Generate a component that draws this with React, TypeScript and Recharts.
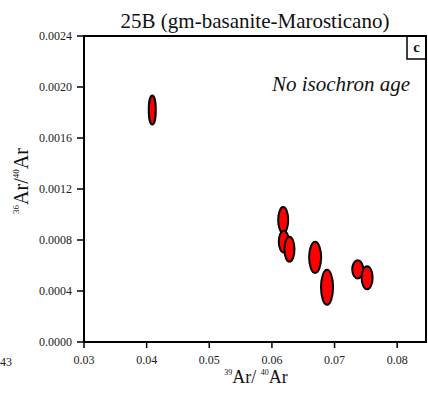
import { ScatterChart, Scatter, XAxis, YAxis, ReferenceArea } from 'recharts';

// 39Ar/40Ar vs 36Ar/40Ar, with 1-sigma half-widths for the error ellipses
const xValues = [0.0409, 0.0618, 0.0619, 0.0628, 0.0669, 0.0688, 0.0737, 0.0752];
const yValues = [0.00182, 0.000957, 0.000787, 0.000727, 0.000664, 0.000429, 0.00057, 0.000504];
const xErrors = [0.00056, 0.0008, 0.0008, 0.0008, 0.00096, 0.00096, 0.00088, 0.00088];
const yErrors = [0.000114, 0.000102, 0.000086, 0.000098, 0.000122, 0.000137, 0.000071, 0.00009];

const xTicks = [0.03, 0.04, 0.05, 0.06, 0.07, 0.08];
const yTicks = [0, 0.0004, 0.0008, 0.0012, 0.0016, 0.002, 0.0024];
const X_DOMAIN: [number, number] = [0.03, 0.0846];
const Y_DOMAIN: [number, number] = [0, 0.0024];

const W = 428;
const H = 394;
const MARGIN = { top: 36, right: 2, bottom: 22, left: 0 };
const Y_AXIS_W = 84;
const X_AXIS_H = 30;
const PLOT_W = W - MARGIN.left - MARGIN.right - Y_AXIS_W;
const PLOT_H = H - MARGIN.top - MARGIN.bottom - X_AXIS_H;
const PX_X = PLOT_W / (X_DOMAIN[1] - X_DOMAIN[0]);
const PX_Y = PLOT_H / (Y_DOMAIN[1] - Y_DOMAIN[0]);

const FONT = "'Liberation Serif', 'Times New Roman', serif";

const data = xValues.map((x, i) => ({ x, y: yValues[i], ex: xErrors[i], ey: yErrors[i] }));

const ErrorEllipse = (props: any) => {
  const { cx, cy, payload } = props;
  return (
    <ellipse
      cx={cx}
      cy={cy}
      rx={payload.ex * PX_X}
      ry={payload.ey * PX_Y}
      fill="#ff0000"
      stroke="#000"
      strokeWidth={2}
    />
  );
};

const tickStyle = { fill: '#222', fontSize: 12, fontFamily: FONT };

export default function App() {
  return (
    <div style={{ position: 'absolute', left: 0, top: 0, background: '#fff' }}>
      <ScatterChart width={W} height={H} margin={MARGIN}>
        <XAxis
          type="number"
          dataKey="x"
          domain={X_DOMAIN}
          ticks={xTicks}
          allowDataOverflow
          height={X_AXIS_H}
          tickFormatter={(v) => v.toFixed(2)}
          tick={tickStyle}
          tickSize={6}
          tickMargin={7}
          axisLine={{ stroke: '#000', strokeWidth: 2 }}
          tickLine={{ stroke: '#000', strokeWidth: 1.5 }}
        />
        <YAxis
          type="number"
          dataKey="y"
          domain={Y_DOMAIN}
          ticks={yTicks}
          allowDataOverflow
          width={Y_AXIS_W}
          tickFormatter={(v) => v.toFixed(4)}
          tick={tickStyle}
          tickSize={7}
          tickMargin={5}
          axisLine={{ stroke: '#000', strokeWidth: 2 }}
          tickLine={{ stroke: '#000', strokeWidth: 1.5 }}
        />
        <ReferenceArea
          x1={X_DOMAIN[0]}
          x2={X_DOMAIN[1]}
          y1={Y_DOMAIN[0]}
          y2={Y_DOMAIN[1]}
          fill="#fff"
          fillOpacity={0}
          stroke="#000"
          strokeWidth={2}
        />
        <Scatter data={data} shape={ErrorEllipse} isAnimationActive={false} />

        <text x={255} y={28} textAnchor="middle" fontSize={21} fontFamily={FONT} fill="#111">
          25B (gm-basanite-Marosticano)
        </text>
        <text x={410} y={91} textAnchor="end" fontSize={21} fontStyle="italic" fontFamily={FONT} fill="#111">
          No isochron age
        </text>
        <rect x={407} y={36} width={19} height={23} fill="#fff" stroke="#000" strokeWidth={1.5} />
        <text x={416.5} y={52} textAnchor="middle" fontSize={15} fontWeight="bold" fontFamily={FONT} fill="#111">
          c
        </text>
        <text transform="translate(28,181) rotate(-90)" textAnchor="middle" fontFamily={FONT} fill="#111">
          <tspan fontSize={9} dy={-9}>36</tspan>
          <tspan fontSize={20} dy={9}>Ar/</tspan>
          <tspan fontSize={9} dy={-9}>40</tspan>
          <tspan fontSize={20} dy={9}>Ar</tspan>
        </text>
        <text x={256} y={383} textAnchor="middle" fontFamily={FONT} fill="#111">
          <tspan fontSize={8} dy={-8}>39</tspan>
          <tspan fontSize={18} dy={8}>Ar/ </tspan>
          <tspan fontSize={8} dy={-8}>40</tspan>
          <tspan fontSize={18} dy={8}>Ar</tspan>
        </text>
        <text x={0} y={366} fontSize={12} fontFamily={FONT} fill="#222">
          43
        </text>
      </ScatterChart>
    </div>
  );
}
